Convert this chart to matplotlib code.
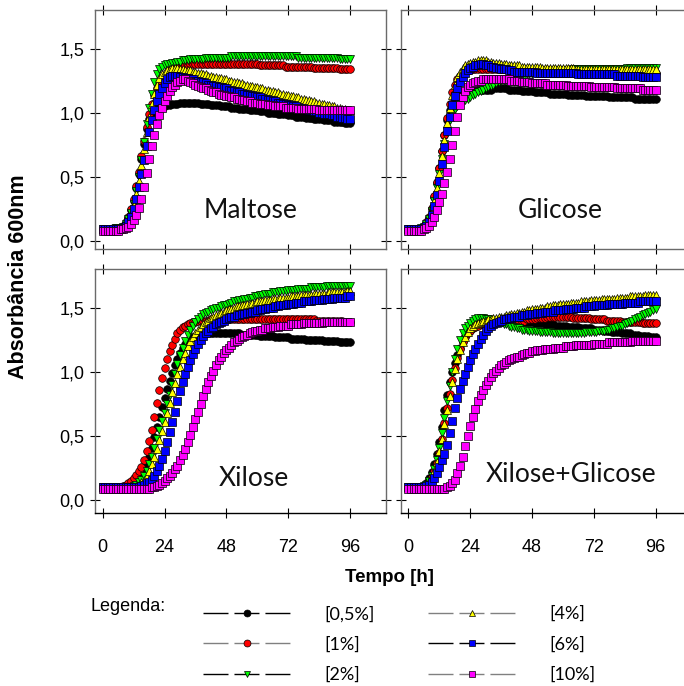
import numpy as np
import matplotlib
matplotlib.use("Agg")
import matplotlib.pyplot as plt
from matplotlib.lines import Line2D

plt.rcParams["font.family"] = ["Liberation Sans", "DejaVu Sans"]

# hourly absorbance readings, 0-96 h
hours = np.arange(97)

concentrations = ["[0,5%]", "[1%]", "[2%]", "[4%]", "[6%]", "[10%]"]
face_colors = ["#000000", "#ff0000", "#00ff00", "#ffff00", "#0000ff", "#ff00ff"]
marker_shapes = ["o", "o", "v", "^", "s", "s"]
legend_line_colors = ["#000000", "#808080", "#000000", "#808080", "#000000", "#808080"]

panel_names = ["Maltose", "Glicose", "Xilose", "Xilose+Glicose"]
time_ticks = [0, 24, 48, 72, 96]
abs_ticks = [0.0, 0.5, 1.0, 1.5]
abs_tick_labels = ["0,0", "0,5", "1,0", "1,5"]

# ---- Maltose ----
maltose_05 = [
    0.09, 0.09, 0.09, 0.09, 0.09, 0.10, 0.10, 0.10, 0.11, 0.14,
    0.18, 0.24, 0.31, 0.41, 0.52, 0.64, 0.76, 0.87, 0.95, 1.00,
    1.02, 1.03, 1.04, 1.05, 1.05, 1.06, 1.06, 1.07, 1.07, 1.07,
    1.08, 1.08, 1.08, 1.08, 1.08, 1.08, 1.08, 1.08, 1.07, 1.07,
    1.07, 1.07, 1.06, 1.06, 1.06, 1.06, 1.05, 1.05, 1.05, 1.05,
    1.04, 1.04, 1.04, 1.03, 1.03, 1.03, 1.03, 1.02, 1.02, 1.02,
    1.02, 1.01, 1.01, 1.01, 1.00, 1.00, 1.00, 1.00, 0.99, 0.99,
    0.99, 0.99, 0.98, 0.98, 0.98, 0.97, 0.97, 0.97, 0.97, 0.96,
    0.96, 0.96, 0.95, 0.95, 0.95, 0.95, 0.94, 0.94, 0.94, 0.94,
    0.93, 0.93, 0.93, 0.93, 0.92, 0.92, 0.92]
maltose_1 = [
    0.09, 0.09, 0.09, 0.09, 0.10, 0.10, 0.10, 0.10, 0.12, 0.15,
    0.19, 0.25, 0.33, 0.43, 0.54, 0.66, 0.78, 0.89, 0.99, 1.07,
    1.14, 1.19, 1.23, 1.26, 1.29, 1.31, 1.33, 1.34, 1.35, 1.36,
    1.36, 1.37, 1.37, 1.37, 1.38, 1.38, 1.38, 1.38, 1.38, 1.38,
    1.38, 1.38, 1.38, 1.38, 1.38, 1.38, 1.38, 1.38, 1.38, 1.38,
    1.38, 1.38, 1.38, 1.38, 1.38, 1.38, 1.38, 1.38, 1.38, 1.38,
    1.38, 1.37, 1.37, 1.37, 1.37, 1.37, 1.37, 1.37, 1.37, 1.37,
    1.37, 1.36, 1.36, 1.36, 1.36, 1.36, 1.36, 1.36, 1.36, 1.36,
    1.36, 1.36, 1.35, 1.35, 1.35, 1.35, 1.35, 1.35, 1.35, 1.35,
    1.35, 1.35, 1.34, 1.34, 1.34, 1.34, 1.34]
maltose_2 = [
    0.09, 0.09, 0.09, 0.09, 0.09, 0.10, 0.10, 0.10, 0.11, 0.13,
    0.17, 0.22, 0.29, 0.39, 0.50, 0.63, 0.77, 0.91, 1.04, 1.15,
    1.24, 1.30, 1.34, 1.36, 1.37, 1.38, 1.38, 1.39, 1.39, 1.40,
    1.40, 1.41, 1.41, 1.41, 1.42, 1.42, 1.42, 1.42, 1.42, 1.42,
    1.43, 1.43, 1.43, 1.43, 1.43, 1.43, 1.43, 1.43, 1.43, 1.43,
    1.44, 1.44, 1.44, 1.44, 1.44, 1.44, 1.44, 1.44, 1.44, 1.44,
    1.44, 1.44, 1.44, 1.44, 1.44, 1.44, 1.44, 1.44, 1.44, 1.44,
    1.44, 1.44, 1.44, 1.44, 1.44, 1.44, 1.43, 1.43, 1.43, 1.43,
    1.43, 1.43, 1.43, 1.43, 1.43, 1.43, 1.43, 1.43, 1.43, 1.43,
    1.43, 1.43, 1.42, 1.42, 1.42, 1.42, 1.42]
maltose_4 = [
    0.09, 0.09, 0.09, 0.09, 0.09, 0.10, 0.10, 0.10, 0.11, 0.13,
    0.16, 0.21, 0.28, 0.37, 0.47, 0.59, 0.72, 0.85, 0.97, 1.07,
    1.15, 1.22, 1.27, 1.30, 1.32, 1.33, 1.34, 1.35, 1.35, 1.35,
    1.34, 1.34, 1.33, 1.33, 1.33, 1.32, 1.32, 1.31, 1.31, 1.30,
    1.30, 1.29, 1.29, 1.28, 1.28, 1.27, 1.27, 1.26, 1.26, 1.25,
    1.25, 1.24, 1.24, 1.23, 1.23, 1.22, 1.22, 1.21, 1.21, 1.20,
    1.20, 1.19, 1.19, 1.18, 1.18, 1.17, 1.17, 1.16, 1.16, 1.15,
    1.15, 1.14, 1.14, 1.13, 1.13, 1.12, 1.12, 1.11, 1.11, 1.10,
    1.10, 1.09, 1.09, 1.08, 1.08, 1.07, 1.07, 1.06, 1.06, 1.05,
    1.05, 1.04, 1.04, 1.03, 1.03, 1.02, 1.02]
maltose_6 = [
    0.09, 0.09, 0.09, 0.09, 0.09, 0.09, 0.09, 0.09, 0.10, 0.12,
    0.15, 0.19, 0.25, 0.33, 0.42, 0.52, 0.63, 0.74, 0.85, 0.94,
    1.02, 1.09, 1.15, 1.19, 1.23, 1.26, 1.28, 1.29, 1.29, 1.29,
    1.28, 1.28, 1.27, 1.27, 1.26, 1.26, 1.25, 1.25, 1.24, 1.24,
    1.23, 1.22, 1.22, 1.21, 1.21, 1.20, 1.20, 1.19, 1.19, 1.18,
    1.17, 1.17, 1.16, 1.16, 1.15, 1.15, 1.14, 1.14, 1.13, 1.13,
    1.12, 1.12, 1.11, 1.11, 1.10, 1.10, 1.09, 1.09, 1.08, 1.08,
    1.07, 1.07, 1.06, 1.06, 1.05, 1.05, 1.04, 1.04, 1.03, 1.03,
    1.02, 1.02, 1.01, 1.01, 1.00, 1.00, 0.99, 0.99, 0.99, 0.98,
    0.98, 0.97, 0.97, 0.96, 0.96, 0.95, 0.95]
maltose_10 = [
    0.08, 0.08, 0.08, 0.08, 0.08, 0.08, 0.08, 0.09, 0.09, 0.10,
    0.11, 0.13, 0.16, 0.20, 0.26, 0.33, 0.42, 0.53, 0.64, 0.74,
    0.83, 0.91, 0.98, 1.04, 1.09, 1.13, 1.17, 1.20, 1.22, 1.24,
    1.25, 1.26, 1.26, 1.25, 1.24, 1.23, 1.22, 1.21, 1.20, 1.19,
    1.19, 1.18, 1.17, 1.16, 1.16, 1.15, 1.14, 1.14, 1.13, 1.13,
    1.12, 1.12, 1.11, 1.11, 1.10, 1.10, 1.09, 1.09, 1.08, 1.08,
    1.08, 1.07, 1.07, 1.07, 1.06, 1.06, 1.06, 1.05, 1.05, 1.05,
    1.05, 1.04, 1.04, 1.04, 1.04, 1.04, 1.03, 1.03, 1.03, 1.03,
    1.03, 1.03, 1.03, 1.03, 1.02, 1.02, 1.02, 1.02, 1.02, 1.02,
    1.02, 1.02, 1.02, 1.02, 1.02, 1.02, 1.02]

# ---- Glicose ----
glicose_05 = [
    0.09, 0.09, 0.09, 0.09, 0.09, 0.10, 0.11, 0.14, 0.18, 0.25,
    0.34, 0.45, 0.57, 0.70, 0.83, 0.94, 1.02, 1.07, 1.10, 1.12,
    1.14, 1.15, 1.16, 1.16, 1.17, 1.17, 1.18, 1.18, 1.18, 1.18,
    1.18, 1.18, 1.18, 1.19, 1.19, 1.19, 1.19, 1.19, 1.19, 1.18,
    1.18, 1.18, 1.18, 1.18, 1.17, 1.17, 1.17, 1.17, 1.17, 1.16,
    1.16, 1.16, 1.16, 1.16, 1.16, 1.15, 1.15, 1.15, 1.15, 1.15,
    1.15, 1.15, 1.14, 1.14, 1.14, 1.14, 1.14, 1.14, 1.14, 1.13,
    1.13, 1.13, 1.13, 1.13, 1.13, 1.13, 1.13, 1.13, 1.12, 1.12,
    1.12, 1.12, 1.12, 1.12, 1.12, 1.12, 1.12, 1.12, 1.11, 1.11,
    1.11, 1.11, 1.11, 1.11, 1.11, 1.11, 1.11]
glicose_1 = [
    0.09, 0.09, 0.09, 0.09, 0.09, 0.10, 0.12, 0.15, 0.19, 0.26,
    0.35, 0.46, 0.57, 0.70, 0.83, 0.96, 1.07, 1.16, 1.22, 1.26,
    1.29, 1.31, 1.32, 1.33, 1.33, 1.34, 1.34, 1.34, 1.34, 1.34,
    1.34, 1.34, 1.34, 1.34, 1.34, 1.34, 1.34, 1.34, 1.34, 1.34,
    1.34, 1.34, 1.34, 1.34, 1.34, 1.34, 1.33, 1.33, 1.33, 1.33,
    1.33, 1.33, 1.33, 1.33, 1.33, 1.33, 1.33, 1.33, 1.33, 1.33,
    1.33, 1.33, 1.33, 1.33, 1.33, 1.32, 1.32, 1.32, 1.32, 1.32,
    1.32, 1.32, 1.32, 1.32, 1.32, 1.32, 1.32, 1.32, 1.32, 1.32,
    1.32, 1.32, 1.31, 1.31, 1.31, 1.31, 1.31, 1.31, 1.31, 1.31,
    1.31, 1.31, 1.31, 1.31, 1.31, 1.31, 1.31]
glicose_2 = [
    0.09, 0.09, 0.09, 0.09, 0.09, 0.10, 0.11, 0.13, 0.17, 0.23,
    0.31, 0.41, 0.52, 0.64, 0.76, 0.86, 0.94, 0.99, 1.03, 1.05,
    1.07, 1.09, 1.10, 1.11, 1.12, 1.14, 1.15, 1.16, 1.17, 1.18,
    1.19, 1.20, 1.21, 1.22, 1.23, 1.24, 1.25, 1.25, 1.26, 1.26,
    1.27, 1.27, 1.28, 1.28, 1.29, 1.29, 1.30, 1.30, 1.30, 1.31,
    1.31, 1.31, 1.31, 1.32, 1.32, 1.32, 1.32, 1.32, 1.33, 1.33,
    1.33, 1.33, 1.33, 1.33, 1.34, 1.34, 1.34, 1.34, 1.34, 1.34,
    1.34, 1.34, 1.34, 1.34, 1.34, 1.34, 1.34, 1.34, 1.34, 1.34,
    1.34, 1.34, 1.34, 1.34, 1.34, 1.35, 1.35, 1.35, 1.35, 1.35,
    1.35, 1.35, 1.35, 1.35, 1.35, 1.35, 1.35]
glicose_4 = [
    0.09, 0.09, 0.09, 0.09, 0.09, 0.10, 0.11, 0.13, 0.17, 0.23,
    0.31, 0.41, 0.53, 0.66, 0.79, 0.92, 1.04, 1.14, 1.22, 1.28,
    1.32, 1.35, 1.37, 1.38, 1.39, 1.40, 1.40, 1.41, 1.41, 1.41,
    1.41, 1.40, 1.40, 1.39, 1.39, 1.39, 1.38, 1.38, 1.38, 1.37,
    1.37, 1.37, 1.37, 1.37, 1.36, 1.36, 1.36, 1.36, 1.36, 1.36,
    1.36, 1.36, 1.35, 1.35, 1.35, 1.35, 1.35, 1.35, 1.35, 1.35,
    1.35, 1.35, 1.35, 1.35, 1.35, 1.34, 1.34, 1.34, 1.34, 1.34,
    1.34, 1.34, 1.34, 1.34, 1.34, 1.34, 1.34, 1.34, 1.34, 1.34,
    1.34, 1.34, 1.34, 1.34, 1.34, 1.34, 1.34, 1.34, 1.34, 1.34,
    1.34, 1.34, 1.34, 1.34, 1.34, 1.34, 1.34]
glicose_6 = [
    0.09, 0.09, 0.09, 0.09, 0.09, 0.09, 0.10, 0.12, 0.15, 0.20,
    0.27, 0.36, 0.47, 0.60, 0.73, 0.86, 0.97, 1.06, 1.13, 1.19,
    1.24, 1.28, 1.31, 1.33, 1.35, 1.36, 1.37, 1.37, 1.38, 1.38,
    1.37, 1.37, 1.36, 1.36, 1.35, 1.35, 1.34, 1.34, 1.34, 1.33,
    1.33, 1.32, 1.32, 1.32, 1.32, 1.32, 1.32, 1.32, 1.32, 1.32,
    1.31, 1.31, 1.31, 1.31, 1.31, 1.31, 1.31, 1.31, 1.31, 1.31,
    1.31, 1.31, 1.31, 1.31, 1.31, 1.31, 1.30, 1.30, 1.30, 1.30,
    1.30, 1.30, 1.30, 1.30, 1.30, 1.30, 1.30, 1.30, 1.30, 1.30,
    1.30, 1.29, 1.29, 1.29, 1.29, 1.29, 1.29, 1.29, 1.29, 1.29,
    1.29, 1.28, 1.28, 1.28, 1.28, 1.28, 1.28]
glicose_10 = [
    0.08, 0.08, 0.08, 0.08, 0.08, 0.08, 0.09, 0.10, 0.12, 0.15,
    0.19, 0.24, 0.30, 0.37, 0.45, 0.54, 0.64, 0.75, 0.86, 0.97,
    1.06, 1.12, 1.17, 1.20, 1.22, 1.23, 1.24, 1.25, 1.25, 1.26,
    1.26, 1.26, 1.26, 1.26, 1.26, 1.26, 1.26, 1.26, 1.26, 1.26,
    1.25, 1.25, 1.25, 1.25, 1.24, 1.24, 1.24, 1.24, 1.23, 1.23,
    1.23, 1.23, 1.23, 1.23, 1.22, 1.22, 1.22, 1.22, 1.22, 1.22,
    1.22, 1.22, 1.21, 1.21, 1.21, 1.21, 1.21, 1.21, 1.21, 1.21,
    1.21, 1.20, 1.20, 1.20, 1.20, 1.20, 1.20, 1.20, 1.20, 1.20,
    1.20, 1.19, 1.19, 1.19, 1.19, 1.19, 1.19, 1.19, 1.19, 1.19,
    1.19, 1.18, 1.18, 1.18, 1.18, 1.18, 1.18]

# ---- Xilose ----
xilose_05 = [
    0.10, 0.10, 0.10, 0.10, 0.10, 0.10, 0.10, 0.10, 0.10, 0.10,
    0.10, 0.11, 0.12, 0.14, 0.16, 0.19, 0.23, 0.28, 0.34, 0.41,
    0.49, 0.57, 0.65, 0.73, 0.80, 0.87, 0.93, 0.99, 1.05, 1.10,
    1.15, 1.19, 1.22, 1.24, 1.26, 1.27, 1.28, 1.29, 1.29, 1.29,
    1.30, 1.30, 1.30, 1.30, 1.30, 1.30, 1.30, 1.30, 1.30, 1.30,
    1.30, 1.30, 1.30, 1.30, 1.29, 1.29, 1.29, 1.29, 1.29, 1.29,
    1.29, 1.28, 1.28, 1.28, 1.28, 1.28, 1.28, 1.27, 1.27, 1.27,
    1.27, 1.27, 1.27, 1.26, 1.26, 1.26, 1.26, 1.26, 1.26, 1.25,
    1.25, 1.25, 1.25, 1.25, 1.25, 1.25, 1.24, 1.24, 1.24, 1.24,
    1.24, 1.24, 1.23, 1.23, 1.23, 1.23, 1.23]
xilose_1 = [
    0.10, 0.10, 0.10, 0.10, 0.10, 0.10, 0.10, 0.10, 0.11, 0.12,
    0.13, 0.15, 0.17, 0.20, 0.23, 0.26, 0.31, 0.38, 0.46, 0.55,
    0.65, 0.76, 0.86, 0.95, 1.03, 1.10, 1.16, 1.21, 1.26, 1.30,
    1.33, 1.35, 1.36, 1.37, 1.38, 1.39, 1.39, 1.40, 1.40, 1.40,
    1.40, 1.40, 1.41, 1.41, 1.41, 1.41, 1.41, 1.41, 1.41, 1.41,
    1.41, 1.41, 1.41, 1.41, 1.41, 1.41, 1.41, 1.41, 1.41, 1.41,
    1.41, 1.41, 1.41, 1.41, 1.41, 1.41, 1.41, 1.41, 1.41, 1.41,
    1.41, 1.41, 1.41, 1.41, 1.41, 1.41, 1.41, 1.41, 1.41, 1.41,
    1.41, 1.41, 1.41, 1.40, 1.40, 1.40, 1.40, 1.40, 1.40, 1.40,
    1.40, 1.40, 1.40, 1.40, 1.39, 1.39, 1.39]
xilose_2 = [
    0.10, 0.10, 0.10, 0.10, 0.10, 0.10, 0.10, 0.10, 0.10, 0.10,
    0.10, 0.10, 0.11, 0.12, 0.14, 0.16, 0.19, 0.23, 0.28, 0.34,
    0.41, 0.48, 0.55, 0.62, 0.68, 0.75, 0.82, 0.90, 0.98, 1.06,
    1.13, 1.19, 1.24, 1.29, 1.33, 1.36, 1.39, 1.41, 1.43, 1.45,
    1.46, 1.47, 1.48, 1.49, 1.50, 1.50, 1.51, 1.52, 1.52, 1.53,
    1.54, 1.55, 1.55, 1.56, 1.56, 1.57, 1.57, 1.58, 1.58, 1.59,
    1.59, 1.60, 1.60, 1.61, 1.61, 1.61, 1.62, 1.62, 1.62, 1.63,
    1.63, 1.63, 1.64, 1.64, 1.64, 1.64, 1.65, 1.65, 1.65, 1.65,
    1.65, 1.66, 1.66, 1.66, 1.66, 1.66, 1.66, 1.67, 1.67, 1.67,
    1.67, 1.67, 1.67, 1.67, 1.67, 1.67, 1.67]
xilose_4 = [
    0.10, 0.10, 0.10, 0.10, 0.10, 0.10, 0.10, 0.10, 0.10, 0.10,
    0.10, 0.10, 0.10, 0.11, 0.12, 0.14, 0.16, 0.19, 0.23, 0.28,
    0.34, 0.40, 0.47, 0.54, 0.61, 0.68, 0.76, 0.84, 0.91, 0.98,
    1.04, 1.10, 1.15, 1.20, 1.24, 1.27, 1.30, 1.33, 1.35, 1.37,
    1.39, 1.40, 1.42, 1.43, 1.44, 1.45, 1.46, 1.47, 1.48, 1.49,
    1.49, 1.50, 1.51, 1.51, 1.52, 1.52, 1.53, 1.53, 1.54, 1.54,
    1.55, 1.55, 1.55, 1.56, 1.56, 1.56, 1.57, 1.57, 1.57, 1.58,
    1.58, 1.58, 1.58, 1.59, 1.59, 1.59, 1.59, 1.60, 1.60, 1.60,
    1.60, 1.60, 1.61, 1.61, 1.61, 1.61, 1.61, 1.61, 1.62, 1.62,
    1.62, 1.62, 1.62, 1.62, 1.62, 1.63, 1.63]
xilose_6 = [
    0.10, 0.10, 0.10, 0.10, 0.10, 0.10, 0.10, 0.10, 0.10, 0.10,
    0.10, 0.10, 0.10, 0.10, 0.10, 0.11, 0.12, 0.13, 0.14, 0.16,
    0.19, 0.23, 0.27, 0.32, 0.38, 0.45, 0.53, 0.61, 0.69, 0.77,
    0.85, 0.92, 0.98, 1.04, 1.09, 1.14, 1.18, 1.22, 1.25, 1.28,
    1.30, 1.32, 1.34, 1.35, 1.37, 1.38, 1.39, 1.40, 1.41, 1.42,
    1.43, 1.43, 1.44, 1.44, 1.45, 1.45, 1.46, 1.46, 1.47, 1.47,
    1.48, 1.48, 1.49, 1.49, 1.50, 1.50, 1.50, 1.51, 1.51, 1.52,
    1.52, 1.52, 1.53, 1.53, 1.53, 1.54, 1.54, 1.54, 1.55, 1.55,
    1.55, 1.55, 1.56, 1.56, 1.56, 1.56, 1.57, 1.57, 1.57, 1.57,
    1.58, 1.58, 1.58, 1.58, 1.58, 1.59, 1.59]
xilose_10 = [
    0.09, 0.09, 0.09, 0.09, 0.09, 0.09, 0.09, 0.09, 0.09, 0.09,
    0.09, 0.09, 0.09, 0.09, 0.09, 0.09, 0.09, 0.09, 0.09, 0.10,
    0.10, 0.11, 0.12, 0.13, 0.15, 0.17, 0.19, 0.21, 0.24, 0.27,
    0.31, 0.35, 0.40, 0.45, 0.51, 0.57, 0.63, 0.69, 0.75, 0.81,
    0.87, 0.92, 0.97, 1.01, 1.05, 1.09, 1.12, 1.15, 1.17, 1.19,
    1.21, 1.23, 1.24, 1.26, 1.27, 1.28, 1.29, 1.30, 1.31, 1.32,
    1.32, 1.33, 1.33, 1.34, 1.34, 1.34, 1.35, 1.35, 1.35, 1.36,
    1.36, 1.36, 1.36, 1.37, 1.37, 1.37, 1.37, 1.37, 1.38, 1.38,
    1.38, 1.38, 1.38, 1.38, 1.38, 1.38, 1.39, 1.39, 1.39, 1.39,
    1.39, 1.39, 1.39, 1.39, 1.39, 1.39, 1.39]

# ---- Xilose + Glicose ----
xilglic_05 = [
    0.10, 0.10, 0.10, 0.10, 0.10, 0.10, 0.11, 0.13, 0.17, 0.22,
    0.28, 0.36, 0.45, 0.57, 0.70, 0.82, 0.92, 1.00, 1.07, 1.13,
    1.19, 1.24, 1.28, 1.31, 1.33, 1.35, 1.36, 1.37, 1.38, 1.38,
    1.39, 1.39, 1.39, 1.39, 1.40, 1.40, 1.40, 1.40, 1.40, 1.40,
    1.40, 1.40, 1.40, 1.40, 1.40, 1.39, 1.39, 1.39, 1.39, 1.38,
    1.38, 1.38, 1.38, 1.37, 1.37, 1.37, 1.37, 1.36, 1.36, 1.36,
    1.36, 1.36, 1.35, 1.35, 1.35, 1.35, 1.35, 1.34, 1.34, 1.34,
    1.34, 1.34, 1.33, 1.33, 1.33, 1.33, 1.32, 1.32, 1.32, 1.31,
    1.31, 1.31, 1.31, 1.30, 1.30, 1.30, 1.30, 1.29, 1.29, 1.29,
    1.28, 1.28, 1.28, 1.28, 1.27, 1.27, 1.27]
xilglic_1 = [
    0.10, 0.10, 0.10, 0.10, 0.10, 0.10, 0.11, 0.12, 0.14, 0.18,
    0.23, 0.29, 0.37, 0.48, 0.60, 0.72, 0.83, 0.94, 1.03, 1.11,
    1.18, 1.23, 1.27, 1.30, 1.32, 1.34, 1.35, 1.36, 1.37, 1.37,
    1.38, 1.38, 1.38, 1.38, 1.38, 1.39, 1.39, 1.39, 1.39, 1.39,
    1.39, 1.39, 1.40, 1.40, 1.40, 1.40, 1.41, 1.41, 1.41, 1.41,
    1.42, 1.42, 1.42, 1.42, 1.43, 1.43, 1.43, 1.43, 1.43, 1.43,
    1.43, 1.43, 1.43, 1.43, 1.42, 1.42, 1.42, 1.42, 1.42, 1.42,
    1.42, 1.41, 1.41, 1.41, 1.41, 1.41, 1.41, 1.40, 1.40, 1.40,
    1.40, 1.40, 1.40, 1.39, 1.39, 1.39, 1.39, 1.39, 1.39, 1.39,
    1.39, 1.38, 1.38, 1.38, 1.38, 1.38, 1.38]
xilglic_2 = [
    0.10, 0.10, 0.10, 0.10, 0.10, 0.10, 0.11, 0.12, 0.15, 0.19,
    0.24, 0.31, 0.41, 0.52, 0.64, 0.77, 0.89, 1.00, 1.10, 1.18,
    1.25, 1.30, 1.34, 1.36, 1.38, 1.40, 1.41, 1.42, 1.42, 1.42,
    1.41, 1.41, 1.40, 1.40, 1.39, 1.39, 1.38, 1.37, 1.37, 1.36,
    1.35, 1.35, 1.34, 1.34, 1.33, 1.33, 1.33, 1.32, 1.32, 1.32,
    1.32, 1.31, 1.31, 1.31, 1.31, 1.31, 1.30, 1.30, 1.30, 1.30,
    1.30, 1.30, 1.30, 1.30, 1.30, 1.30, 1.30, 1.30, 1.30, 1.31,
    1.31, 1.31, 1.31, 1.31, 1.32, 1.32, 1.32, 1.33, 1.33, 1.34,
    1.34, 1.35, 1.36, 1.36, 1.37, 1.38, 1.39, 1.40, 1.41, 1.42,
    1.43, 1.44, 1.45, 1.46, 1.47, 1.48, 1.49]
xilglic_4 = [
    0.10, 0.10, 0.10, 0.10, 0.10, 0.10, 0.10, 0.12, 0.14, 0.18,
    0.23, 0.30, 0.38, 0.48, 0.59, 0.70, 0.81, 0.92, 1.02, 1.10,
    1.17, 1.23, 1.27, 1.31, 1.34, 1.36, 1.37, 1.38, 1.39, 1.40,
    1.40, 1.41, 1.41, 1.42, 1.42, 1.43, 1.43, 1.43, 1.44, 1.44,
    1.45, 1.45, 1.46, 1.46, 1.47, 1.47, 1.48, 1.48, 1.49, 1.49,
    1.49, 1.50, 1.50, 1.50, 1.51, 1.51, 1.52, 1.52, 1.52, 1.53,
    1.53, 1.53, 1.53, 1.54, 1.54, 1.54, 1.54, 1.55, 1.55, 1.55,
    1.55, 1.56, 1.56, 1.56, 1.56, 1.57, 1.57, 1.57, 1.57, 1.57,
    1.57, 1.58, 1.58, 1.58, 1.58, 1.58, 1.59, 1.59, 1.59, 1.59,
    1.59, 1.59, 1.60, 1.60, 1.60, 1.60, 1.60]
xilglic_6 = [
    0.10, 0.10, 0.10, 0.10, 0.10, 0.10, 0.10, 0.11, 0.12, 0.14,
    0.17, 0.21, 0.26, 0.31, 0.36, 0.43, 0.52, 0.62, 0.72, 0.80,
    0.87, 0.93, 0.98, 1.04, 1.09, 1.14, 1.18, 1.22, 1.26, 1.29,
    1.32, 1.34, 1.36, 1.37, 1.38, 1.39, 1.40, 1.41, 1.41, 1.42,
    1.42, 1.43, 1.43, 1.43, 1.44, 1.44, 1.44, 1.45, 1.45, 1.45,
    1.46, 1.46, 1.46, 1.47, 1.47, 1.47, 1.47, 1.48, 1.48, 1.48,
    1.48, 1.49, 1.49, 1.49, 1.49, 1.50, 1.50, 1.50, 1.50, 1.51,
    1.51, 1.51, 1.51, 1.52, 1.52, 1.52, 1.52, 1.52, 1.53, 1.53,
    1.53, 1.53, 1.53, 1.53, 1.54, 1.54, 1.54, 1.54, 1.54, 1.54,
    1.55, 1.55, 1.55, 1.55, 1.55, 1.55, 1.55]
xilglic_10 = [
    0.09, 0.09, 0.09, 0.09, 0.09, 0.09, 0.09, 0.09, 0.09, 0.09,
    0.09, 0.09, 0.09, 0.09, 0.09, 0.10, 0.11, 0.13, 0.16, 0.21,
    0.27, 0.34, 0.42, 0.50, 0.58, 0.65, 0.71, 0.77, 0.82, 0.86,
    0.90, 0.93, 0.96, 0.99, 1.01, 1.03, 1.05, 1.06, 1.08, 1.09,
    1.10, 1.11, 1.12, 1.12, 1.13, 1.14, 1.15, 1.15, 1.16, 1.16,
    1.17, 1.17, 1.17, 1.18, 1.18, 1.18, 1.18, 1.19, 1.19, 1.19,
    1.19, 1.20, 1.20, 1.20, 1.20, 1.21, 1.21, 1.21, 1.21, 1.21,
    1.21, 1.21, 1.22, 1.22, 1.22, 1.22, 1.22, 1.22, 1.23, 1.23,
    1.23, 1.23, 1.23, 1.23, 1.23, 1.23, 1.23, 1.24, 1.24, 1.24,
    1.24, 1.24, 1.24, 1.24, 1.24, 1.24, 1.24]

panel_series = {
    "Maltose": [maltose_05, maltose_1, maltose_2, maltose_4, maltose_6, maltose_10],
    "Glicose": [glicose_05, glicose_1, glicose_2, glicose_4, glicose_6, glicose_10],
    "Xilose": [xilose_05, xilose_1, xilose_2, xilose_4, xilose_6, xilose_10],
    "Xilose+Glicose": [xilglic_05, xilglic_1, xilglic_2, xilglic_4, xilglic_6, xilglic_10],
}

W, H = 684, 686
fig = plt.figure(figsize=(W / 100, H / 100), dpi=100)


def add_panel(x0, y0, x1, y1):
    # pixel box (from top-left) -> figure fraction
    return fig.add_axes([x0 / W, 1 - y1 / H, (x1 - x0) / W, (y1 - y0) / H])


# panel boxes in pixels; the right column runs past the page edge
boxes = {
    "Maltose": (95, 10, 386, 249),
    "Glicose": (400.7, 10, 691.7, 249),
    "Xilose": (95, 269.3, 386, 513),
    "Xilose+Glicose": (400.7, 269.3, 691.7, 513),
}
label_pos = {
    "Maltose": (0.533, 0.13),
    "Glicose": (0.547, 0.13),
    "Xilose": (0.545, 0.111),
    "Xilose+Glicose": (0.587, 0.127),
}

for name in panel_names:
    ax = add_panel(*boxes[name])
    top_row = name in ("Maltose", "Glicose")
    left_col = name in ("Maltose", "Xilose")

    for vals, fc, mk in zip(panel_series[name], face_colors, marker_shapes):
        ax.plot(hours, vals, linestyle="none", marker=mk, markersize=5.5,
                markerfacecolor=fc, markeredgecolor="black",
                markeredgewidth=0.5)

    ax.set_xlim(-3, 110)
    ax.set_ylim((-0.063, 1.802) if top_row else (-0.10, 1.80))
    ax.set_xticks(time_ticks)
    ax.set_xticklabels([str(t) for t in time_ticks])
    ax.set_yticks(abs_ticks)
    ax.set_yticklabels(abs_tick_labels)
    ax.tick_params(direction="inout", length=7, width=0.8, top=True,
                   right=True, labelsize=13,
                   labelbottom=not top_row, labelleft=left_col)
    ax.tick_params(axis="y", pad=4)
    ax.tick_params(axis="x", pad=15)

    for sp in ax.spines.values():
        sp.set_color("#6a6a6a")
        sp.set_linewidth(1.0)
    if not top_row:
        ax.spines["bottom"].set_color("black")

    lx, ly = label_pos[name]
    ax.text(lx, ly, name, transform=ax.transAxes, ha="center",
            va="baseline", fontsize=19, family="Lato", color="#111111")

fig.text(18.5 / W, 1 - 277 / H, "Absorbância 600nm", rotation=90,
         ha="center", va="center", fontsize=15.5, fontweight="bold")
fig.text(389 / W, 1 - 578 / H, "Tempo [h]", ha="center", va="center",
         fontsize=13.5, fontweight="bold")

# legend block under the panels
fig.text(90 / W, 1 - 598 / H, "Legenda:", ha="left", va="top", fontsize=13)

handles = [
    Line2D([], [], color=lc, linewidth=1.0, linestyle=(0, (18, 4.3)),
           marker=mk, markersize=5, markerfacecolor=fc,
           markeredgecolor="black", markeredgewidth=0.5)
    for lc, fc, mk in zip(legend_line_colors, face_colors, marker_shapes)
]
for i, x_left in enumerate((203, 428)):
    fig.legend(handles[3 * i:3 * i + 3], concentrations[3 * i:3 * i + 3],
               loc="upper left", bbox_to_anchor=(x_left / W, 1 - 606 / H),
               frameon=False, prop={"family": "Lato", "size": 13},
               handlelength=4.83, handletextpad=1.9, labelspacing=0.78,
               borderpad=0, borderaxespad=0, numpoints=1)

fig.savefig("out.png", dpi=100)
